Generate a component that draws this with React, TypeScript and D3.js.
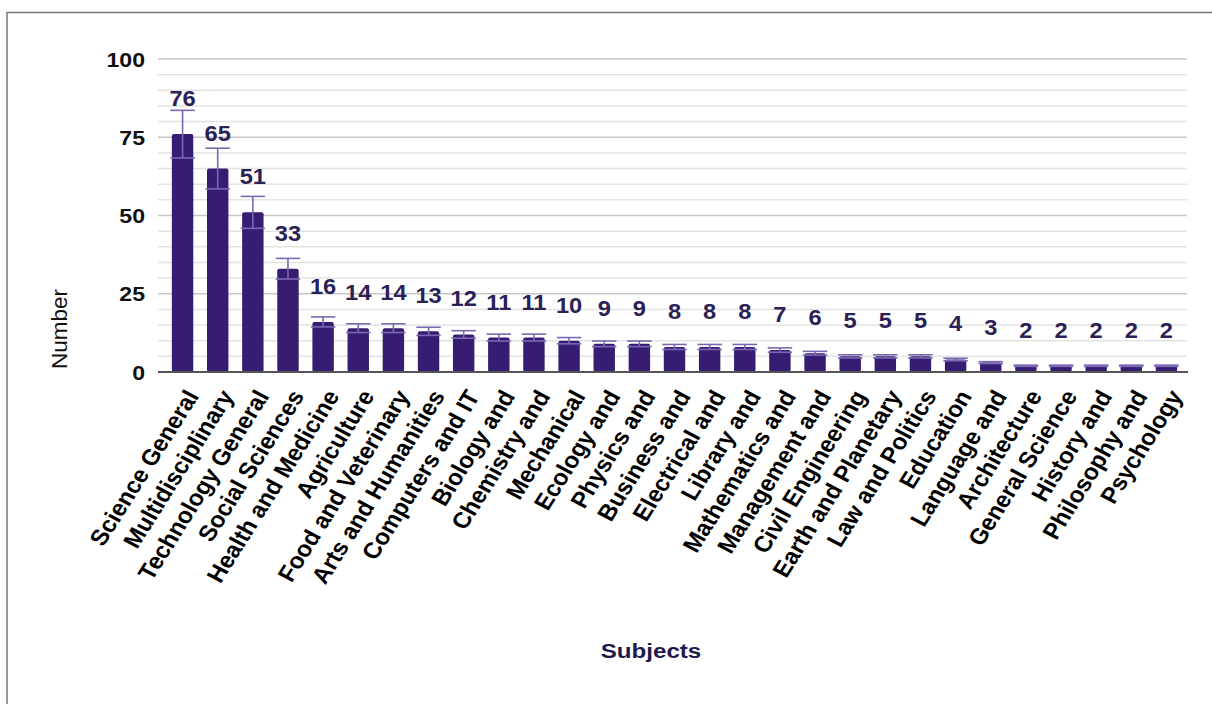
import * as d3 from 'd3';
import React, { useEffect, useRef } from 'react';

const subjects = [
	'Science General', 'Multidisciplinary', 'Technology General', 'Social Sciences',
	'Health and Medicine', 'Agriculture', 'Food and Veterinary', 'Arts and Humanities',
	'Computers and IT', 'Biology and', 'Chemistry and', 'Mechanical', 'Ecology and',
	'Physics and', 'Business and', 'Electrical and', 'Library and', 'Mathematics and',
	'Management and', 'Civil Engineering', 'Earth and Planetary', 'Law and Politics',
	'Education', 'Language and', 'Architecture', 'General Science', 'History and',
	'Philosophy and', 'Psychology',
];
const counts = [76, 65, 51, 33, 16, 14, 14, 13, 12, 11, 11, 10, 9, 9, 8, 8, 8, 7, 6, 5, 5, 5, 4, 3, 2, 2, 2, 2, 2];
const errors = [7.6, 6.5, 5.1, 3.3, 1.6, 1.4, 1.4, 1.3, 1.2, 1.1, 1.1, 1.0, 0.9, 0.9, 0.8, 0.8, 0.8, 0.7, 0.6, 0.5, 0.5, 0.5, 0.4, 0.3, 0.2, 0.2, 0.2, 0.2, 0.2];
const yTicks = [0, 25, 50, 75, 100];

const FONT = '"Liberation Sans", Arial, sans-serif';

export default function App(): React.JSX.Element {
	const ref = useRef<SVGSVGElement | null>(null);

	useEffect(() => {
		if (ref.current === null) return;
		const svg = d3.select(ref.current);
		svg.selectAll('*').remove();

		const x = d3.scaleBand<string>()
			.domain(subjects)
			.range([165, 1184])
			.paddingInner(0.39)
			.paddingOuter(0.195);
		const y = d3.scaleLinear().domain([0, 100]).range([372, 59]);

		// frame
		svg.append('path')
			.attr('d', 'M7,704 L7,12.5 L1212,12.5')
			.attr('fill', 'none')
			.attr('stroke', '#7a7a7a')
			.attr('stroke-width', 1.5);

		// gridlines
		svg.append('g')
			.selectAll('line')
			.data(d3.range(5, 101, 5))
			.enter()
			.append('line')
			.attr('x1', 158)
			.attr('x2', 1187)
			.attr('y1', (d) => y(d))
			.attr('y2', (d) => y(d))
			.attr('stroke', (d) => (d % 25 === 0 ? '#c6c6c6' : '#e3e3e3'))
			.attr('stroke-width', 1.5);

		// y tick labels
		svg.append('g')
			.selectAll('text')
			.data(yTicks)
			.enter()
			.append('text')
			.attr('transform', (d) => `translate(145,${y(d) + 7.5}) scale(1.1,1)`)
			.attr('text-anchor', 'end')
			.attr('font-family', FONT)
			.attr('font-weight', 'bold')
			.attr('font-size', 21)
			.attr('fill', '#111')
			.text((d) => d);

		// bars
		svg.append('g')
			.selectAll('rect')
			.data(counts)
			.enter()
			.append('rect')
			.attr('x', (_, i) => x(subjects[i]) ?? 0)
			.attr('y', (d) => y(d))
			.attr('width', x.bandwidth())
			.attr('height', (d) => y(0) - y(d))
			.attr('rx', 2)
			.attr('fill', '#361d72');

		// error bars
		const eb = svg.append('g')
			.attr('stroke', '#7b68b2')
			.attr('stroke-width', 1.6)
			.attr('fill', 'none');
		counts.forEach((v, i) => {
			const cx = (x(subjects[i]) ?? 0) + x.bandwidth() / 2;
			const hw = x.bandwidth() / 2 + 1.5;
			const top = y(v + errors[i]);
			const bot = y(v - errors[i]);
			eb.append('line').attr('x1', cx).attr('x2', cx).attr('y1', top).attr('y2', bot);
			eb.append('line').attr('x1', cx - hw).attr('x2', cx + hw).attr('y1', top).attr('y2', top);
			eb.append('line').attr('x1', cx - hw).attr('x2', cx + hw).attr('y1', bot).attr('y2', bot);
		});

		// zero axis line
		svg.append('line')
			.attr('x1', 158)
			.attr('x2', 1188)
			.attr('y1', y(0))
			.attr('y2', y(0))
			.attr('stroke', '#555')
			.attr('stroke-width', 2);

		// value labels
		svg.append('g')
			.selectAll('text')
			.data(counts)
			.enter()
			.append('text')
			.attr('transform', (d, i) => `translate(${(x(subjects[i]) ?? 0) + x.bandwidth() / 2},${y(d) - 28}) scale(1.1,1)`)
			.attr('text-anchor', 'middle')
			.attr('font-family', FONT)
			.attr('font-weight', 'bold')
			.attr('font-size', 21.5)
			.attr('fill', '#2b2157')
			.text((d) => d);

		// category labels
		svg.append('g')
			.selectAll('text')
			.data(subjects)
			.enter()
			.append('text')
			.attr('transform', (d) => `translate(${(x(d) ?? 0) + x.bandwidth() / 2 + 17},396) scale(1.1,1) rotate(-60)`)
			.attr('text-anchor', 'end')
			.attr('font-family', FONT)
			.attr('font-weight', 'bold')
			.attr('font-size', 22.5)
			.attr('fill', '#000')
			.text((d) => d);

		// axis titles
		svg.append('text')
			.attr('transform', 'translate(67,329) rotate(-90)')
			.attr('text-anchor', 'middle')
			.attr('font-family', FONT)
			.attr('font-size', 22.5)
			.attr('fill', '#111')
			.text('Number');

		svg.append('text')
			.attr('transform', 'translate(651,658) scale(1.15,1)')
			.attr('text-anchor', 'middle')
			.attr('font-family', FONT)
			.attr('font-weight', 'bold')
			.attr('font-size', 21)
			.attr('fill', '#1e1a4d')
			.text('Subjects');
	}, []);

	return (
		<svg
			ref={ref}
			width={1212}
			height={704}
			style={{ position: 'absolute', left: 0, top: 0, display: 'block', background: '#fff' }}
		/>
	);
}
